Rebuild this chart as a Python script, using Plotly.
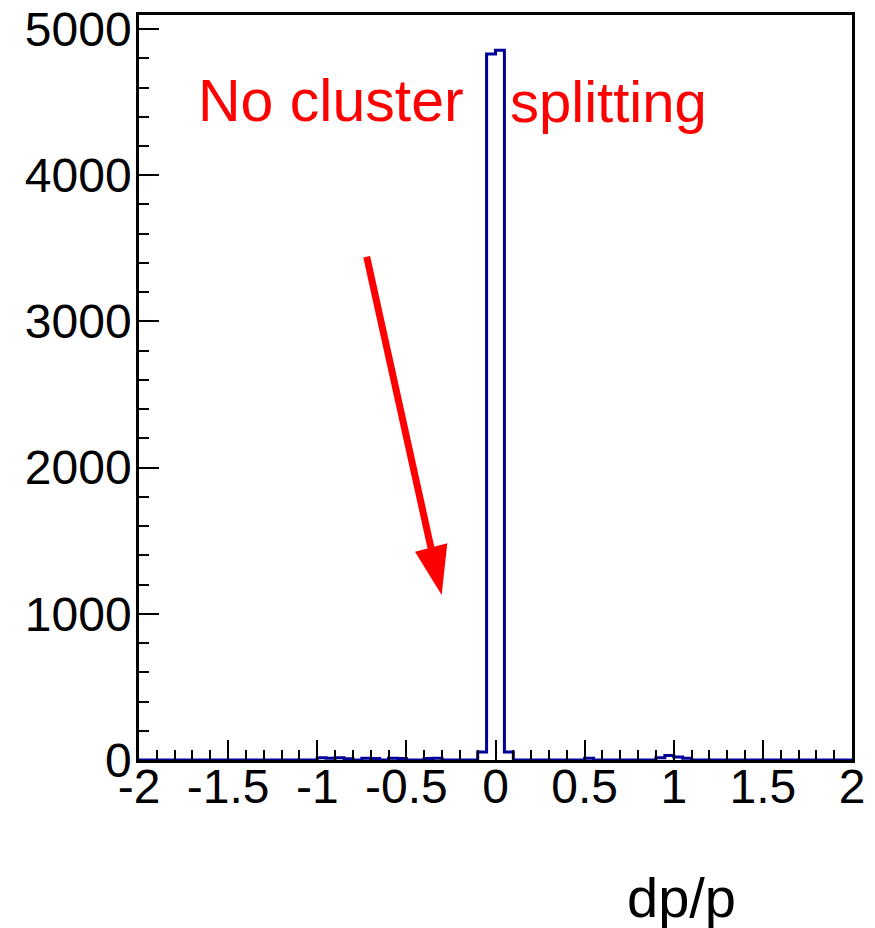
import plotly.graph_objects as go

# ---- data -----------------------------------------------------------
bin_low = -2.0
bin_width = 0.05
counts = [
    0, 0, 0, 0, 0, 0, 0, 0, 0, 0,
    0, 0, 0, 0, 0, 0, 0, 0, 0, 0,
    15, 12, 15, 8, 0, 12, 10, 0, 12, 10,
    0, 0, 10, 12, 0, 0, 0, 0, 55, 4830,
    4855, 55, 0, 0, 0, 0, 0, 0, 0, 0,
    12, 0, 0, 0, 0, 0, 0, 0, 15, 30,
    20, 12, 0, 0, 0, 0, 0, 0, 0, 0,
    0, 0, 0, 0, 0, 0, 0, 0, 0, 0,
]
x_tick_vals = [-2, -1.5, -1, -0.5, 0, 0.5, 1, 1.5, 2]
x_tick_text = ["-2", "-1.5", "-1", "-0.5", "0", "0.5", "1", "1.5", "2"]
y_max = 5096
x_title = "dp/p"
label_left = "No cluster"
label_right = "splitting"

# ---- figure ---------------------------------------------------------
edges = [bin_low + i * bin_width for i in range(len(counts) + 1)]
ys = counts + [counts[-1]]

FONT = "Liberation Sans, Arial, Helvetica, sans-serif"

fig = go.Figure()
fig.add_trace(go.Scatter(
    x=edges, y=ys, mode="lines", line_shape="hv",
    line=dict(color="#000099", width=3), hoverinfo="skip", showlegend=False,
))

# page has an 8px body margin; figure sized to fit the 875x928 window
OFF = 8
W, H = 875 - OFF, 928 - OFF
PL, PR, PT, PB = 139, 852, 15, 760          # plot frame in page pixels
L, T = PL - OFF, PT - OFF
R, B = W - (PR - OFF), H - (PB - OFF)
pw, ph = PR - PL, PB - PT


def px(xp):
    return (xp - PL) / pw


def py(yp):
    return (PB - yp) / ph


red = "#ff0000"
# arrow shaft
fig.add_shape(type="line", xref="paper", yref="paper",
              x0=px(366.7), y0=py(256.7), x1=px(431.0), y1=py(548.0),
              line=dict(color=red, width=7))
# arrow head
fig.add_shape(type="path", xref="paper", yref="paper",
              path=f"M {px(415):.4f},{py(551.7):.4f} L {px(447.3):.4f},{py(543.3):.4f} "
                   f"L {px(441.7):.4f},{py(595):.4f} Z",
              fillcolor=red, line=dict(color=red, width=0))

fig.add_annotation(text=label_left, xref="paper", yref="paper",
                   x=px(196), y=py(101), xanchor="left", yanchor="middle",
                   showarrow=False, font=dict(family=FONT, size=59, color=red))
fig.add_annotation(text=label_right, xref="paper", yref="paper",
                   x=px(508), y=py(101), xanchor="left", yanchor="middle",
                   showarrow=False, font=dict(family=FONT, size=58, color=red))
fig.add_annotation(text=x_title, xref="paper", yref="paper",
                   x=px(625), y=py(897), xanchor="left", yanchor="middle",
                   showarrow=False, font=dict(family=FONT, size=56, color="black"))

fig.update_layout(
    width=W, height=H,
    margin=dict(l=L, r=R, t=T, b=B, pad=0, autoexpand=False),
    paper_bgcolor="white", plot_bgcolor="white",
    font=dict(family=FONT, size=48, color="black"),
    xaxis=dict(
        range=[-2, 2], tickmode="array", tickvals=x_tick_vals, ticktext=x_tick_text,
        ticks="inside", ticklen=20, tickwidth=2, tickcolor="black",
        minor=dict(tickmode="linear", tick0=-2, dtick=0.1, ticks="inside",
                   ticklen=10, tickwidth=2, tickcolor="black"),
        showline=True, linecolor="black", linewidth=2.5, mirror=True,
        showgrid=False, zeroline=False, automargin=False,
        ticklabelstandoff=-17, ticklabeloverflow="allow",
        tickfont=dict(family=FONT, size=48, color="black"),
    ),
    yaxis=dict(
        range=[0, y_max], tickmode="linear", tick0=0, dtick=1000,
        ticks="inside", ticklen=20, tickwidth=2, tickcolor="black",
        minor=dict(tickmode="linear", tick0=0, dtick=200, ticks="inside",
                   ticklen=10, tickwidth=2, tickcolor="black"),
        showline=True, linecolor="black", linewidth=2.5, mirror=True,
        showgrid=False, zeroline=False, automargin=False,
        ticklabelstandoff=-5, ticklabeloverflow="allow",
        tickfont=dict(family=FONT, size=48, color="black"),
    ),
)

fig.write_html("out.html")
